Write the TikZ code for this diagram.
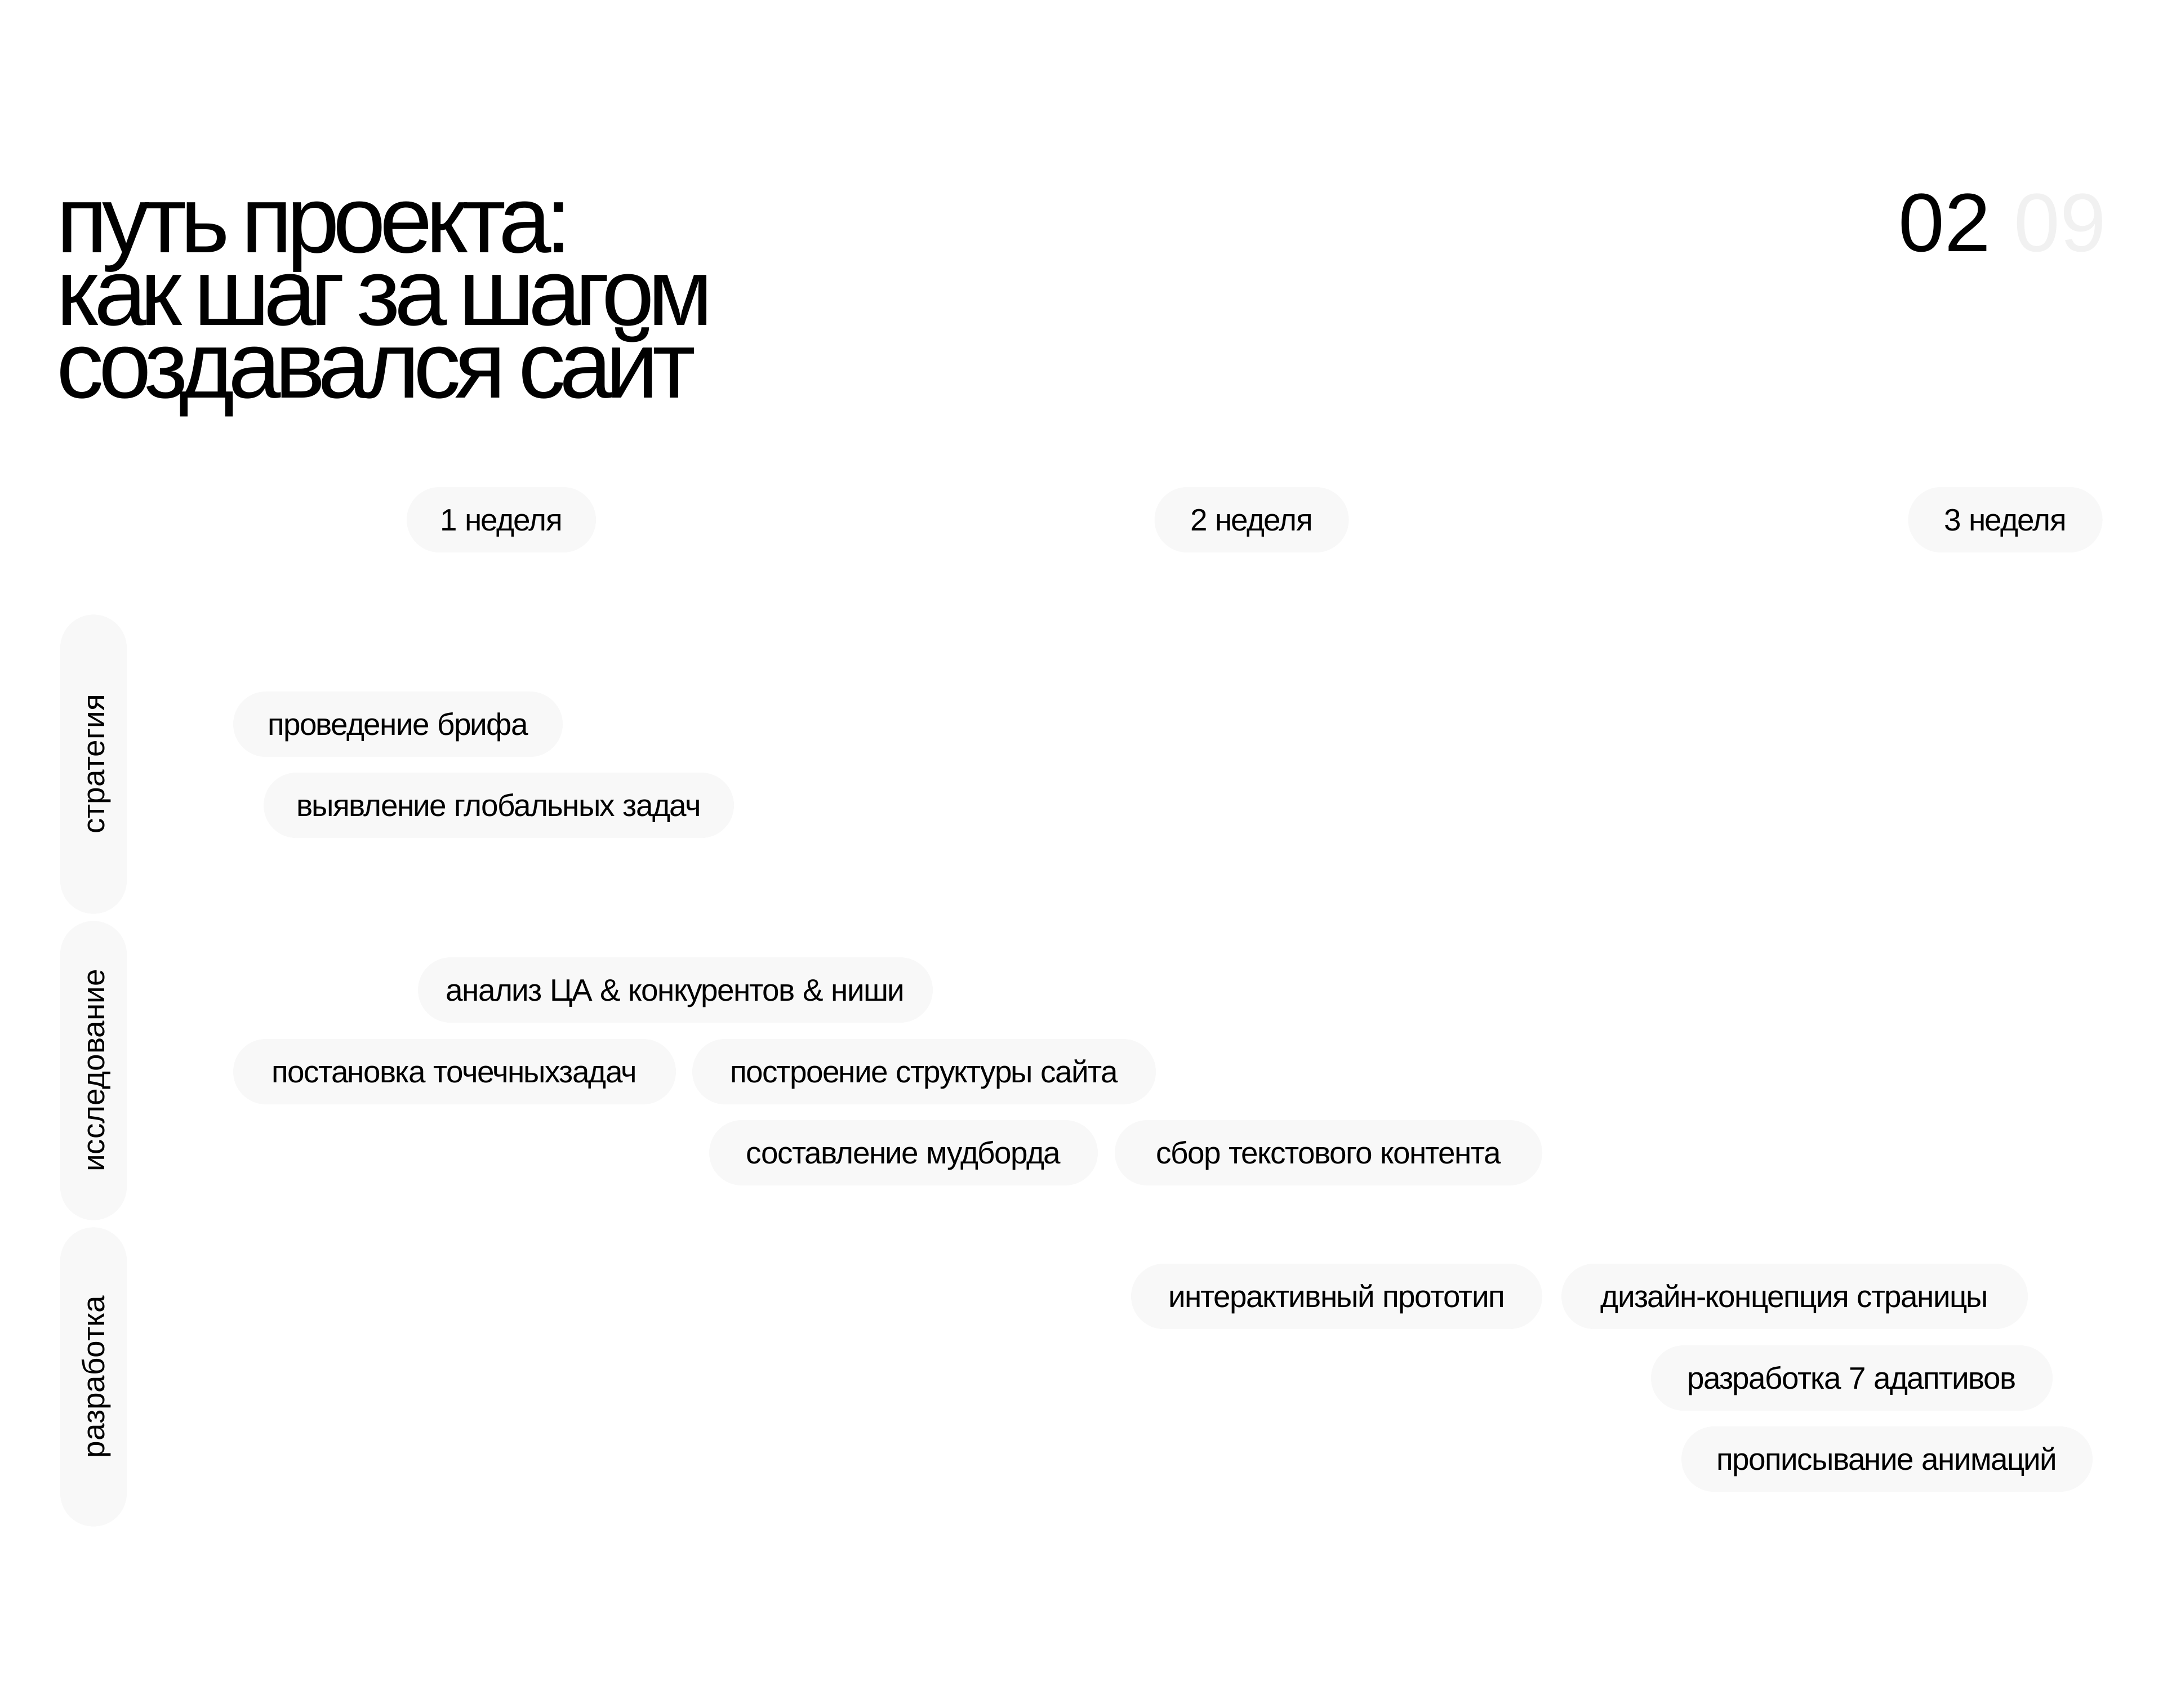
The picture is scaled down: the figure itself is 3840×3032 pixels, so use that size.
\documentclass[tikz,border=0pt]{standalone}
\usepackage{fontspec}
\setmainfont{Liberation Sans}
\newfontfamily\titlefont[LetterSpace=-6.5, WordSpace=0.6]{Liberation Sans}
\newfontfamily\tagfont[LetterSpace=-3]{Liberation Sans}
\usepackage{xcolor}
\definecolor{pillgray}{HTML}{F8F8F8}
\definecolor{ghostgray}{HTML}{F1F1F1}
\tikzset{
  every node/.style = {inner sep=0pt}
}
\tikzset{
  pill/.style = {fill=pillgray, rounded corners=0.58cm, minimum height=1.16cm,
    font=\tagfont\fontsize{15.6}{18}\selectfont, text height=0.39cm, text depth=0cm},
  wd/.style = {minimum width=#1*0.01cm},
  lane/.style = {fill=pillgray, rounded corners=0.59cm, minimum height=1.18cm,
    minimum width=5.31cm, rotate=90, font=\fontsize{15.6}{18}\selectfont,
    text height=0.39cm, text depth=0cm},
  headline/.style = {anchor=base west, text height=1.2cm, text depth=0.08cm,
    font=\titlefont\fontsize{47.8}{40}\selectfont}
}

\begin{document}
\begin{tikzpicture}[x=0.01cm, y=-0.01cm]
\useasboundingbox (0,0) rectangle (3840,3032);

% Title
\node[headline] (line1) at (100,448) {путь проекта:};
\node[headline] (line2) at (100,577) {как шаг за шагом};
\node[headline] (line3) at (100,706) {создавался сайт};

% Page counter
\node[anchor=base west, font=\fontsize{41.8}{44}\selectfont] (page) at (3370,446) {02};
\node[anchor=base west, font=\fontsize{41.8}{44}\selectfont, text=ghostgray] (total) at (3575,446) {09};

% Weeks
\def\wy{923}
\node[pill, wd=336] (week1) at (890,\wy) {1 неделя};
\node[pill, wd=345] (week2) at (2222,\wy) {2 неделя};
\node[pill, wd=345] (week3) at (3560,\wy) {3 неделя};

% Lanes
\node[lane] (strategy) at (166,1357) {стратегия};
\node[lane] (research) at (166,1901) {исследование};
\node[lane] (develop)  at (166,2445) {разработка};

% Steps
\node[pill, wd=585] (brief)     at (706.5,1286) {проведение брифа};
\node[pill, wd=835] (goals)     at (885.5,1430) {выявление глобальных задач};
\node[pill, wd=914] (analysis)  at (1199,1758)  {анализ ЦА \& конкурентов \& ниши};
\node[pill, wd=786] (tasks)     at (807,1903)   {постановка точечныхзадач};
\node[pill, wd=823] (structure) at (1640.5,1903) {построение структуры сайта};
\node[pill, wd=690] (moodboard) at (1604,2047)  {составление мудборда};
\node[pill, wd=759] (content)   at (2358.5,2047) {сбор текстового контента};
\node[pill, wd=730] (prototype) at (2373,2302)  {интерактивный прототип};
\node[pill, wd=828] (concept)   at (3186,2302)  {дизайн-концепция страницы};
\node[pill, wd=713] (adaptive)  at (3287.5,2447) {разработка 7 адаптивов};
\node[pill, wd=730] (animation) at (3350,2591)  {прописывание анимаций};
\end{tikzpicture}
\end{document}
